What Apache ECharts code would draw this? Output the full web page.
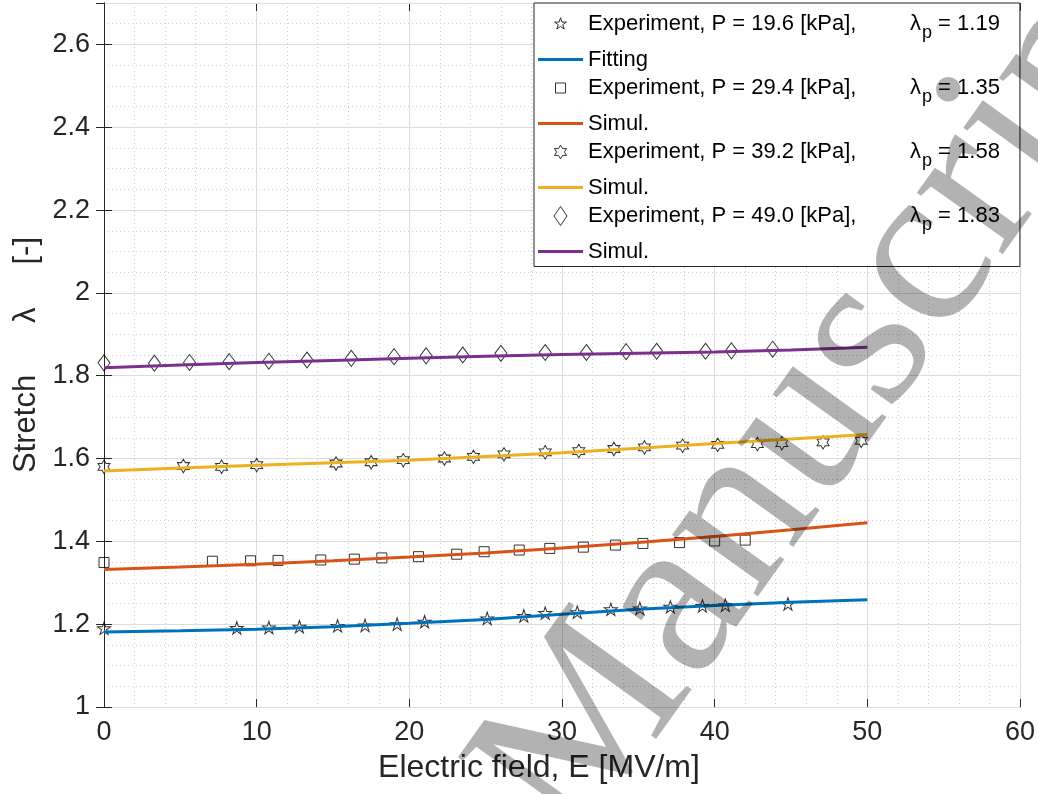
<!DOCTYPE html>
<html>
<head>
<meta charset="utf-8">
<script src="https://cdn.jsdelivr.net/npm/echarts@6/dist/echarts.min.js"></script>
<style>
  html, body { margin: 0; padding: 0; background: #fff; }
  #chart { width: 1038px; height: 794px; }
</style>
</head>
<body>
<div id="chart"></div>
<script>
// measured values, E [MV/m] vs stretch
const expX1 = [0, 8.7, 10.8, 12.8, 15.3, 17.1, 19.2, 21.0, 25.1, 27.5, 28.9, 31.0, 33.2, 35.1, 37.1, 39.2, 40.7, 44.8];
const expY1 = [1.190, 1.191, 1.192, 1.194, 1.196, 1.197, 1.200, 1.206, 1.214, 1.220, 1.227, 1.229, 1.236, 1.238, 1.242, 1.244, 1.246, 1.249];
const expX2 = [0, 7.1, 9.6, 11.4, 14.2, 16.4, 18.2, 20.6, 23.1, 24.9, 27.2, 29.2, 31.4, 33.5, 35.3, 37.7, 40.0, 42.0];
const expY2 = [1.349, 1.352, 1.353, 1.354, 1.355, 1.357, 1.360, 1.363, 1.369, 1.375, 1.379, 1.383, 1.386, 1.391, 1.395, 1.397, 1.401, 1.403];
const expX3 = [0, 5.2, 7.7, 10.0, 15.2, 17.5, 19.6, 22.3, 24.2, 26.2, 28.9, 31.1, 33.4, 35.4, 37.9, 40.2, 42.8, 44.4, 47.1, 49.6];
const expY3 = [1.580, 1.582, 1.580, 1.584, 1.588, 1.591, 1.596, 1.600, 1.604, 1.610, 1.615, 1.618, 1.623, 1.627, 1.631, 1.633, 1.635, 1.637, 1.639, 1.643];
const expX4 = [0, 3.3, 5.6, 8.2, 10.8, 13.3, 16.2, 19.0, 21.1, 23.5, 26.0, 28.9, 31.6, 34.2, 36.2, 39.4, 41.1, 43.8];
const expY4 = [1.831, 1.830, 1.832, 1.834, 1.835, 1.838, 1.842, 1.846, 1.848, 1.850, 1.854, 1.856, 1.856, 1.858, 1.859, 1.859, 1.860, 1.864];

// fitting / simulation curves
const simX = [0, 5, 10, 15, 20, 25, 30, 35, 40, 45, 50];
const simY1 = [1.181, 1.184, 1.188, 1.194, 1.202, 1.211, 1.224, 1.236, 1.245, 1.253, 1.259];
const simY2 = [1.332, 1.338, 1.345, 1.353, 1.362, 1.372, 1.384, 1.397, 1.412, 1.428, 1.445];
const simY3 = [1.570, 1.577, 1.584, 1.590, 1.596, 1.605, 1.614, 1.625, 1.636, 1.647, 1.658];
const simY4 = [1.819, 1.826, 1.832, 1.837, 1.842, 1.847, 1.851, 1.854, 1.857, 1.862, 1.869];

const pressures = ['19.6', '29.4', '39.2', '49.0'];
const lambdaP = ['1.19', '1.35', '1.58', '1.83'];
const lineLabels = ['Fitting', 'Simul.', 'Simul.', 'Simul.'];
const lineColors = ['#0072BD', '#D95319', '#EDB120', '#7E2F8E'];

const FONT = 'Liberation Sans, Arial, Helvetica, sans-serif';
const AXIS = '#262626';

// marker shapes
const starPath = 'M0,-10 L2.245,-3.09 L9.51,-3.09 L3.633,1.18 L5.88,8.09 L0,3.82 L-5.88,8.09 L-3.633,1.18 L-9.51,-3.09 L-2.245,-3.09 Z';
const hexPath = 'M0,-11 L3.18,-5.5 L9.53,-5.5 L6.35,0 L9.53,5.5 L3.18,5.5 L0,11 L-3.18,5.5 L-9.53,5.5 L-6.35,0 L-9.53,-5.5 L-3.18,-5.5 Z';
const squarePath = 'M-8,-8 H8 V8 H-8 Z';
const diamondPath = 'M0,-15.2 L10.4,0 L0,15.2 L-10.4,0 Z';
const pad = ' M-16,-16 M16,16'; // widens the bbox so legend icons keep their size

const markers = [
  { path: starPath, size: [13, 12.4] },
  { path: squarePath, size: [10, 10] },
  { path: hexPath, size: [12, 13.5] },
  { path: diamondPath, size: [12, 16] }
];

const expX = [expX1, expX2, expX3, expX4];
const expY = [expY1, expY2, expY3, expY4];
const simY = [simY1, simY2, simY3, simY4];

const series = [];
const legendData = [];
for (let i = 0; i < 4; i++) {
  series.push({
    name: 'exp' + i,
    type: 'scatter',
    symbol: 'path://' + markers[i].path,
    symbolSize: markers[i].size,
    itemStyle: { color: 'rgba(0,0,0,0)', borderColor: '#000', borderWidth: 1 },
    data: expX[i].map((x, k) => [x, expY[i][k]]),
    z: 3
  });
  series.push({
    name: 'sim' + i,
    type: 'line',
    showSymbol: false,
    symbol: 'none',
    lineStyle: { color: lineColors[i], width: 3 },
    itemStyle: { color: lineColors[i] },
    data: simX.map((x, k) => [x, simY[i][k]]),
    z: 4
  });
  legendData.push({
    name: 'exp' + i,
    icon: 'path://' + markers[i].path + pad,
    itemStyle: { color: 'rgba(0,0,0,0)', borderColor: '#000', borderWidth: 1 }
  });
  legendData.push({
    name: 'sim' + i,
    icon: 'path://M0,0 H30 V2 H0 Z',
    itemStyle: { color: lineColors[i], borderWidth: 0 }
  });
}

const chart = echarts.init(document.getElementById('chart'), null, { renderer: 'canvas' });

chart.setOption({
  animation: false,
  backgroundColor: '#fff',
  textStyle: { fontFamily: FONT },
  grid: { left: 104, right: 15, top: 3, bottom: 87, containLabel: false },
  legend: {
    orient: 'vertical',
    left: 534,
    top: 3,
    padding: [10, 20, 4, 4],
    itemGap: 6.5,
    itemWidth: 45,
    itemHeight: 20,
    itemTextGap: 4,
    symbolKeepAspect: true,
    backgroundColor: '#fff',
    borderColor: AXIS,
    borderWidth: 1,
    selectedMode: false,
    data: legendData,
    formatter: function (name) {
      const i = +name.slice(3);
      if (name.indexOf('exp') === 0) {
        return '{a|Experiment, P = ' + pressures[i] + ' [kPa],}{l|λ}{s|p}{b| = ' + lambdaP[i] + '}';
      }
      return '{c|' + lineLabels[i] + '}';
    },
    textStyle: {
      fontFamily: FONT, fontSize: 22, color: '#000',
      rich: {
        a: { fontFamily: FONT, fontSize: 22, width: 322, lineHeight: 22, verticalAlign: 'top', color: '#000' },
        l: { fontFamily: FONT, fontSize: 22, lineHeight: 22, verticalAlign: 'top', color: '#000' },
        s: { fontFamily: FONT, fontSize: 18, lineHeight: 17, padding: [11, 0, 0, 1], verticalAlign: 'top', color: '#000' },
        b: { fontFamily: FONT, fontSize: 22, lineHeight: 22, verticalAlign: 'top', color: '#000' },
        c: { fontFamily: FONT, fontSize: 22, lineHeight: 22, color: '#000' }
      }
    }
  },
  xAxis: [
    {
      type: 'value', min: 0, max: 60, interval: 10, position: 'bottom',
      name: 'Electric field, E [MV/m]',
      nameLocation: 'middle', nameGap: 45,
      nameTextStyle: { fontFamily: FONT, fontSize: 32, color: AXIS, padding: [0, 46, 0, 0] },
      axisLine: { show: true, lineStyle: { color: AXIS, width: 1 } },
      axisTick: { show: true, inside: true, length: 8, lineStyle: { color: AXIS } },
      axisLabel: { fontFamily: FONT, fontSize: 27, color: AXIS, margin: 12 },
      splitLine: { show: true, lineStyle: { color: '#dcdcdc', width: 1 } },
      minorTick: { show: false, splitNumber: 5 },
      minorSplitLine: { show: true, lineStyle: { color: '#cdcdcd', width: 1, type: [1, 3] } }
    },
    {
      type: 'value', min: 0, max: 60, interval: 10, position: 'top',
      axisLine: { show: true, lineStyle: { color: AXIS, width: 1 } },
      axisTick: { show: true, inside: true, length: 8, lineStyle: { color: AXIS } },
      axisLabel: { show: false },
      splitLine: { show: false }
    }
  ],
  yAxis: [
    {
      type: 'value', min: 1, max: 2.7, interval: 0.2, position: 'left',
      name: 'Stretch      λ     [-]',
      nameLocation: 'middle', nameGap: 60,
      nameTextStyle: { fontFamily: FONT, fontSize: 31, color: AXIS },
      axisLine: { show: true, lineStyle: { color: AXIS, width: 1 } },
      axisTick: { show: true, inside: true, length: 8, lineStyle: { color: AXIS } },
      axisLabel: { fontFamily: FONT, fontSize: 27, color: AXIS, margin: 14, showMaxLabel: false },
      splitLine: { show: true, lineStyle: { color: '#dcdcdc', width: 1 } },
      z: 2
    },
    {
      type: 'value', min: 1, max: 2.7, interval: 0.2, position: 'right',
      axisLine: { show: true, lineStyle: { color: AXIS, width: 1 } },
      axisTick: { show: true, inside: true, length: 8, lineStyle: { color: AXIS } },
      axisLabel: { show: false },
      splitLine: { show: false }
    },
    {
      // minor y grid, every 0.05
      type: 'value', min: 1, max: 2.7, interval: 0.05, position: 'left', offset: 0,
      axisLine: { show: false }, axisTick: { show: false }, axisLabel: { show: false },
      splitLine: { show: true, lineStyle: { color: '#cdcdcd', width: 1, type: [1, 3] } },
      z: 1
    }
  ],
  graphic: [
    {
      // "Manuscript" watermark of the source file
      type: 'text',
      x: 832, y: 389,
      rotation: 0.95,
      z: 100,
      silent: true,
      style: {
        text: 'Manuscript',
        font: '230px "Liberation Serif", "DejaVu Serif", serif',
        fill: 'rgba(0,0,0,0.3)',
        align: 'center', verticalAlign: 'middle',
        textAlign: 'center', textVerticalAlign: 'middle'
      }
    }
  ],
  series: series
});
</script>
</body>
</html>
